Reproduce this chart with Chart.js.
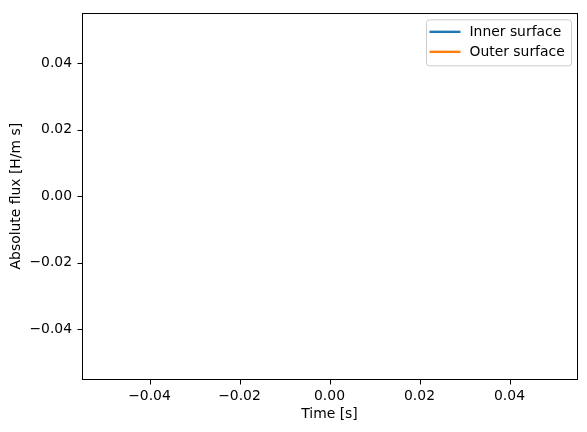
<!DOCTYPE html>
<html>
<head>
<meta charset="utf-8">
<script src="https://cdn.jsdelivr.net/npm/chart.js@4/dist/chart.umd.min.js"></script>
<style>
  html, body { margin: 0; padding: 0; background: #fff; }
  #wrap { width: 587px; height: 432px; }
</style>
</head>
<body>
<div id="wrap"><canvas id="myChart"></canvas></div>
<script>
/* Absolute flux vs time -- both series are empty in the source figure */
var timeValues = [];
var innerFlux = [];
var outerFlux = [];
var seriesLabels = ['Inner surface', 'Outer surface'];
var seriesColors = ['#1f77b4', '#ff7f0e'];
var xTickValues = [-0.04, -0.02, 0.00, 0.02, 0.04];
var yTickValues = [-0.04, -0.02, 0.00, 0.02, 0.04];
var axisMin = -0.055, axisMax = 0.055;

var FONT = 'DejaVu Sans';
var FS = 13.9;

function toPoints(ys) {
  return timeValues.map(function (t, i) { return { x: t, y: ys[i] }; });
}

function fmt(v) {
  return (v < -1e-12 ? '\u2212' : '') + Math.abs(v).toFixed(2);
}

// frame on all four sides, tick marks and legend box (matplotlib style)
var framePlugin = {
  id: 'frameLegend',
  afterDraw: function (chart) {
    var ctx = chart.ctx, a = chart.chartArea;
    var L = Math.round(a.left) + 0.5, R = Math.round(a.right) + 0.5;
    var T = Math.round(a.top) + 0.5, B = Math.round(a.bottom) + 0.5;
    ctx.save();
    ctx.strokeStyle = '#000';
    ctx.lineWidth = 1;
    ctx.strokeRect(L, T, R - L, B - T);

    // outward tick marks
    ctx.beginPath();
    xTickValues.forEach(function (v) {
      var px = Math.round(chart.scales.x.getPixelForValue(v)) + 0.5;
      ctx.moveTo(px, B); ctx.lineTo(px, B + 5);
    });
    yTickValues.forEach(function (v) {
      var py = Math.round(chart.scales.y.getPixelForValue(v)) + 0.5;
      ctx.moveTo(L, py); ctx.lineTo(L - 5, py);
    });
    ctx.stroke();

    var ds = chart.data.datasets;
    var w = 145, rowH = 20, h = 10 + ds.length * rowH - 4;
    var x0 = a.right - 5.5 - w, y0 = a.top + 6;
    ctx.beginPath();
    ctx.roundRect(x0, y0 + 0.5, w, h, 3);
    ctx.fillStyle = 'rgba(255,255,255,0.8)';
    ctx.fill();
    ctx.strokeStyle = '#cccccc';
    ctx.lineWidth = 1;
    ctx.stroke();

    ctx.font = FS + 'px "' + FONT + '"';
    ctx.textBaseline = 'middle';
    ctx.textAlign = 'left';
    ds.forEach(function (d, i) {
      var yy = y0 + 12.5 + i * rowH;
      ctx.beginPath();
      ctx.moveTo(x0 + 3, yy);
      ctx.lineTo(x0 + 34, yy);
      ctx.strokeStyle = d.borderColor;
      ctx.lineWidth = 2.4;
      ctx.stroke();
      ctx.fillStyle = '#000';
      ctx.fillText(d.label, x0 + 43, yy + 1);
    });
    ctx.restore();
  }
};

var ctx1 = document.getElementById('myChart').getContext('2d');
window.fluxChart = new Chart(ctx1, {
  type: 'line',
  data: {
    datasets: [
      { label: seriesLabels[0], data: toPoints(innerFlux), borderColor: seriesColors[0], backgroundColor: seriesColors[0], borderWidth: 2.1, pointRadius: 0 },
      { label: seriesLabels[1], data: toPoints(outerFlux), borderColor: seriesColors[1], backgroundColor: seriesColors[1], borderWidth: 2.1, pointRadius: 0 }
    ]
  },
  plugins: [framePlugin],
  options: {
    animation: false,
    responsive: true,
    maintainAspectRatio: false,
    layout: { padding: { left: 0, right: 10, top: 10, bottom: 0 } },
    plugins: {
      legend: { display: false },
      tooltip: { enabled: false },
      title: { display: false }
    },
    scales: {
      x: {
        type: 'linear',
        min: axisMin,
        max: axisMax,
        afterBuildTicks: function (s) { s.ticks = xTickValues.map(function (v) { return { value: v }; }); },
        afterFit: function (s) { s.height = 53; },
        grid: { display: false, drawTicks: true, tickLength: 5 },
        border: { display: false },
        ticks: {
          color: '#000', padding: 4, maxRotation: 0, autoSkip: false,
          font: { family: FONT, size: FS },
          callback: function (v) { return fmt(v); }
        },
        title: {
          display: true, text: 'Time [s]', color: '#000',
          font: { family: FONT, size: FS },
          padding: { top: 0, bottom: 9 }
        }
      },
      y: {
        type: 'linear',
        min: axisMin,
        max: axisMax,
        afterBuildTicks: function (s) { s.ticks = yTickValues.map(function (v) { return { value: v }; }); },
        afterFit: function (s) { s.width = 82; },
        grid: { display: false, drawTicks: true, tickLength: 5 },
        border: { display: false },
        ticks: {
          color: '#000', padding: 5, autoSkip: false,
          font: { family: FONT, size: FS },
          callback: function (v) { return fmt(v); }
        },
        title: {
          display: true, text: 'Absolute flux [H/m s]', color: '#000',
          font: { family: FONT, size: FS },
          padding: { top: 8, bottom: 0 }
        }
      }
    }
  }
});
</script>
</body>
</html>
